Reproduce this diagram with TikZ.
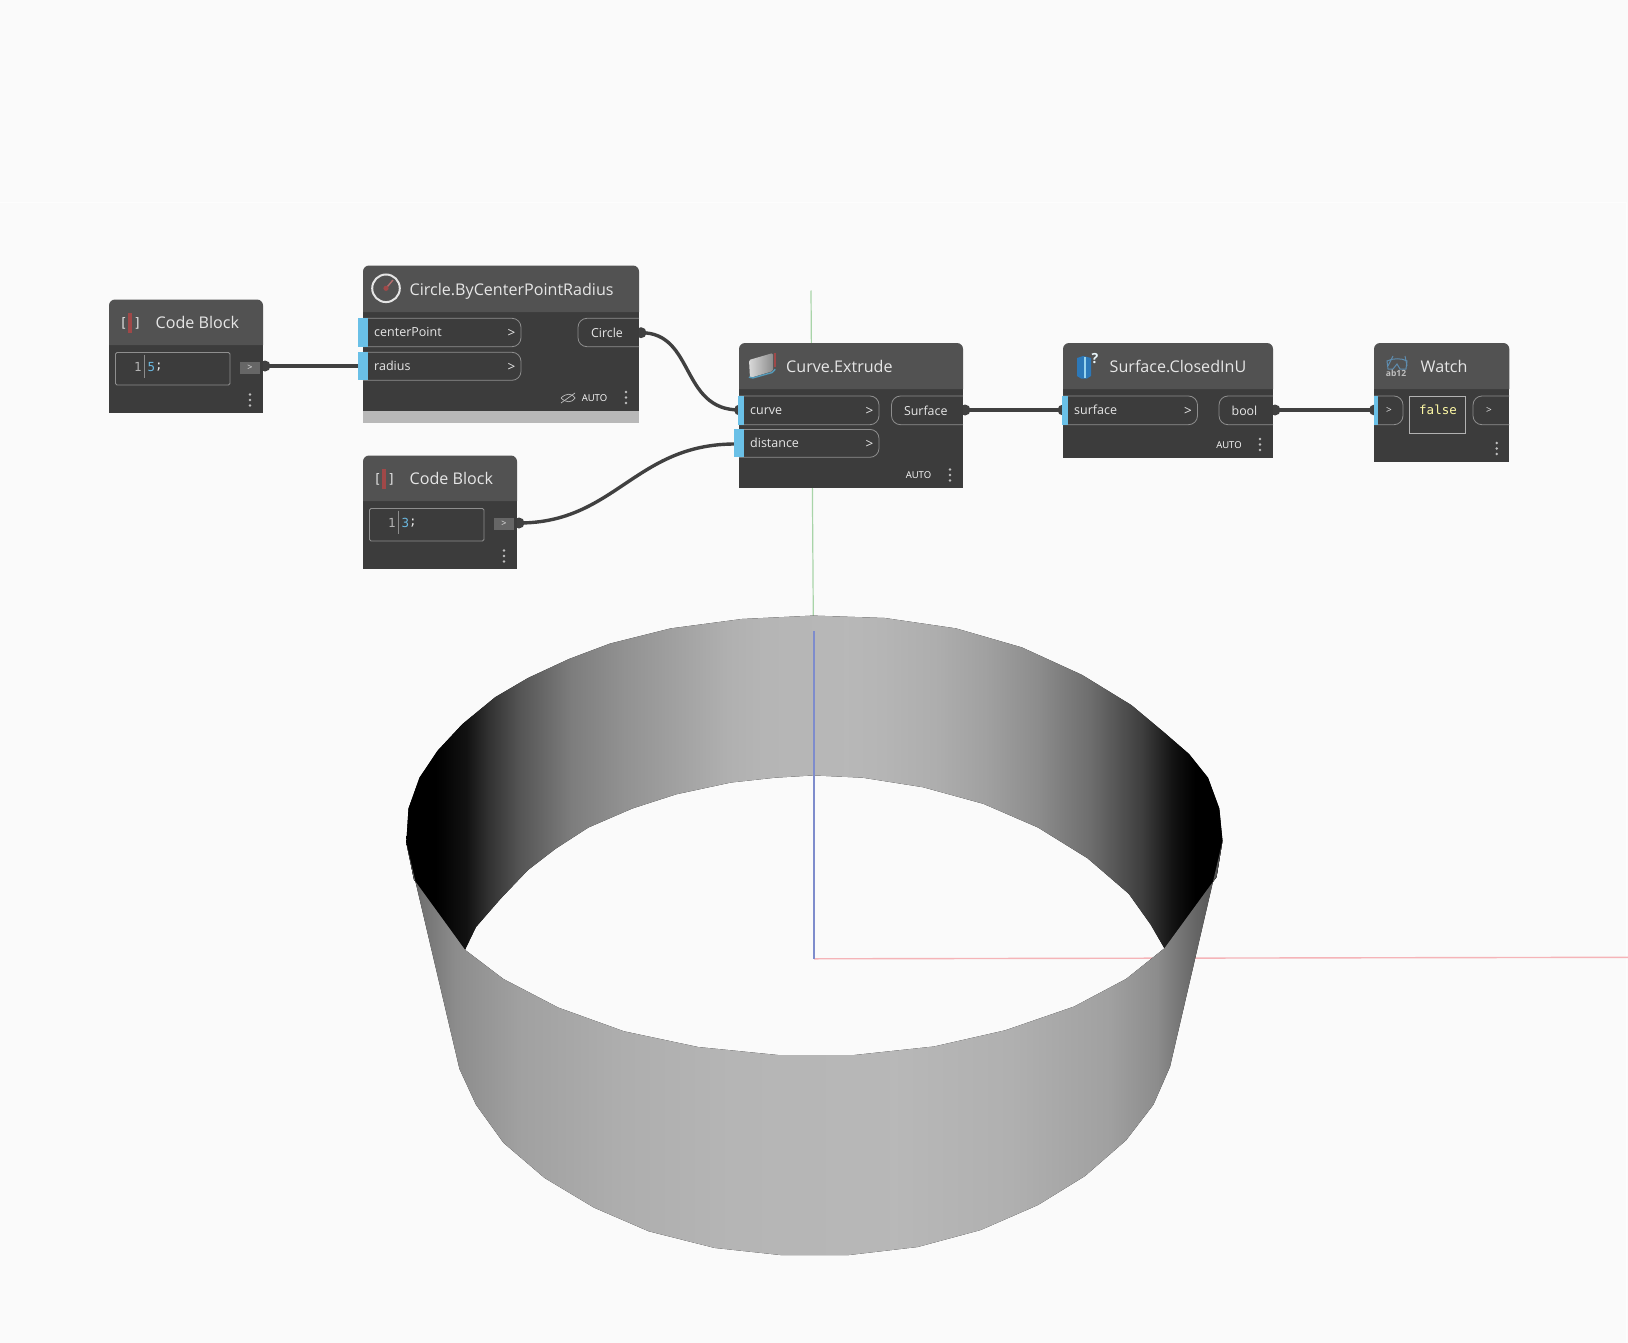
\documentclass[tikz,border=0pt]{standalone}
\usepackage{fontspec}
\setmainfont{Open Sans}
\newfontfamily\codefont{DejaVu Sans Mono}
\pgfdeclarehorizontalshading{farwall}{100bp}{
 color(0bp)=(black); color(25bp)=(black); color(26.8bp)=(black);
 color(28.7bp)=(black!93); color(30bp)=(black!81); color(31.9bp)=(black!67);
 color(35.1bp)=(black!51); color(38.3bp)=(black!43); color(41.5bp)=(black!37);
 color(44.7bp)=(black!31); color(46.9bp)=(black!29); color(52bp)=(black!28);
 color(54.2bp)=(black!29); color(57.5bp)=(black!32); color(60.5bp)=(black!37);
 color(63.7bp)=(black!45); color(66.9bp)=(black!57); color(70.1bp)=(black!76);
 color(72bp)=(black!93); color(73.3bp)=(black); color(75bp)=(black); color(100bp)=(black)}
\pgfdeclarehorizontalshading{nearwall}{100bp}{
 color(0bp)=(black!66); color(25bp)=(black!66); color(26bp)=(black!55);
 color(28bp)=(black!45); color(32bp)=(black!37); color(38bp)=(black!32);
 color(45bp)=(black!29); color(55bp)=(black!28); color(62bp)=(black!31);
 color(68bp)=(black!37); color(71bp)=(black!45); color(73bp)=(black!58); color(75bp)=(black!70); color(100bp)=(black!70)}
\definecolor{bg}{HTML}{FAFAFA}
\definecolor{bodyc}{HTML}{3C3C3C}
\definecolor{headc}{HTML}{525252}
\definecolor{wirec}{HTML}{404040}
\definecolor{portblue}{HTML}{6AC0E7}
\definecolor{pillc}{HTML}{8E8E8E}
\definecolor{txtc}{HTML}{E6E6E6}
\definecolor{numblue}{HTML}{6AB8E0}
\definecolor{iconred}{HTML}{A04848}
\definecolor{axisx}{HTML}{F5B4B8}
\definecolor{axisy}{HTML}{A8D4A8}
\definecolor{axisz}{HTML}{7E8CCC}
\definecolor{surfblue}{HTML}{2C78B8}
\definecolor{watchblue}{HTML}{5E8CAE}
\tikzset{
 x=1pt,y=-1pt,
 title/.style={anchor=base west,inner sep=0,text=txtc,font=\fontsize{16.1}{18}\selectfont},
 portlabel/.style={anchor=base west,inner sep=0,text=txtc,font=\fontsize{12.5}{15}\selectfont},
 outlabel/.style={inner sep=0,text=txtc,font=\fontsize{12.4}{15}\selectfont},
 chev/.style={inner sep=0,text=txtc,font=\fontsize{13.5}{14}\selectfont},
 autolabel/.style={inner sep=0,text=white,font=\fontsize{9.5}{11}\selectfont},
 knob/.style={circle,fill=wirec,inner sep=0,minimum size=11pt},
 wire/.style={wirec,line width=3.4pt},
 pillline/.style={draw=pillc,line width=.8pt,rounded corners=9pt},
 codebox/.style={draw=pillc,line width=.8pt,rounded corners=1.5pt},
 dotc/.style={fill=white!75!black},
 code/.style={inner sep=0,font=\codefont\fontsize{12.5}{14}\selectfont},
}
\newcommand{\dynbody}[6]{%
 \fill[bodyc] (#2,#5) rectangle (#3,#6);
 \fill[headc,rounded corners=6pt] (#2,#5) -- (#2,#4) -- (#3,#4) -- (#3,#5);
 \coordinate (#1) at (#2,#4);}
\newcommand{\inport}[6]{%
 \draw[pillline] (#2,#4) -- (#3,#4) -- (#3,#5) -- (#2,#5);
 \fill[portblue] (#2-1,#4) rectangle (#2+5,#5);
 \node[portlabel] (#1) at (#2+11,#4+18.2) {#6};
 \node[chev] at (#3-9.5,#4+15) {>};}
\newcommand{\outport}[6]{%
 \draw[pillline] (#3,#4) -- (#2,#4) -- (#2,#5) -- (#3,#5);
 \node[outlabel] (#1) at ({(#2+#3)/2-1.5},#4+15) {#6};}
\newcommand{\threedots}[2]{%
 \fill[dotc] (#1,#2-5.5) circle (1.4pt) (#1,#2) circle (1.4pt) (#1,#2+5.5) circle (1.4pt);}
\newcommand{\cbicon}[2]{%
 \fill[iconred] (#1-2,#2-10) rectangle (#1+2,#2+10);
 \node[inner sep=0,text=txtc,font=\codefont\fontsize{13}{15}\selectfont] at (#1-6.5,#2) {[};
 \node[inner sep=0,text=txtc,font=\codefont\fontsize{13}{15}\selectfont] at (#1+7.5,#2) {]};}
\newcommand{\cbnode}[4]{% name x ytop num
 \dynbody{#1}{#2}{#2+154}{#3}{#3+45.5}{#3+113.5}
 \cbicon{#2+21}{#3+23.5}
 \node[title] (#1t) at (#2+46.5,#3+29) {Code Block};
 \draw[codebox] (#2+6.5,#3+53) rectangle (#2+121,#3+85.5);
 \node[code,text=white!70!black] at (#2+29,#3+67.5) {1};
 \draw[white!55!black,line width=.5pt] (#2+35.5,#3+55) -- (#2+35.5,#3+78);
 \node[code,text=numblue,anchor=west] (#1n) at (#2+38.5,#3+67.5) {#4};
 \node[code,text=txtc,anchor=west] at (#2+46,#3+67.5) {;};
 \fill[white!40!black] (#2+130.5,#3+62) rectangle (#2+150.5,#3+74.5);
 \node[inner sep=0,text=txtc,font=\fontsize{9}{10}\selectfont] at (#2+141,#3+68) {>};
 \threedots{#2+141}{#3+100.5}}
\begin{document}
\begin{tikzpicture}
\useasboundingbox (0,0) rectangle (1628,1343);
\fill[bg] (0,0) rectangle (1628,1343);
\draw[white!70!bg,line width=1pt] (0,203) -- (1626,203) -- (1626,1343);
% axes
\coordinate (origin) at (814,958.8);
\coordinate (xend) at (1628,957.3);
\coordinate (yend) at (811,290.5);
\coordinate (ytip) at (813.3,618);
\coordinate (zend) at (814,631);
\draw[axisy,line width=1.2pt] (yend) -- (ytip);
\draw[axisx,line width=1.4pt] (origin) -- (xend);
% far wall
\fill[shading=farwall]
 (406.3,842.7) -- (408.5,808.5) -- (419.5,777.7) -- (437.6,750.7) -- (462.3,724.2) -- (495.2,697.2) -- (528,678) -- (569,659) -- (610,643.6) -- (670.7,628.4) -- (742,619) -- (813.3,615.6) -- (884.7,618) -- (956,628.4) -- (1021.8,647.4) -- (1082,674.9) -- (1131.5,705.2) -- (1164.4,732.7) -- (1189,754) -- (1208,777.7) -- (1219.3,808.5) -- (1222.5,840.8)
 -- (1216.5,877) -- (1164.4,948.3)
 -- (1150.7,924.6) -- (1128.8,893.8) -- (1087.6,858.3) -- (1038,827.5) -- (983.4,803.8) -- (923,787.2) -- (862.7,777.7) -- (813.3,775.4) -- (775,777.7) -- (731,782.5) -- (676.2,794.3) -- (632.3,808.5) -- (588.4,827.5) -- (555.5,848.8) -- (528,870) -- (500.7,898.6) -- (476,927) -- (465,949.8) -- (414,879.6) -- cycle;
% near wall
\fill[shading=nearwall]
 (406.3,842.7) -- (414,879.6) -- (465,949.8) -- (503.4,979) -- (558.3,1007.6) -- (624,1031.3) -- (698,1047) -- (777.7,1055) -- (854.5,1055) -- (934,1046.5) -- (1005.3,1030.3) -- (1074,1006.6) -- (1126,979) -- (1164.4,948.3) -- (1216.5,877) -- (1222.5,840.8)
 -- (1170,1066.8) -- (1153.4,1104.7) -- (1126,1140.3) -- (1085,1176) -- (1038,1205) -- (980.7,1230) -- (917.6,1247) -- (849,1255) -- (780.4,1255) -- (714.6,1247.9) -- (648.8,1231.3) -- (594,1207.6) -- (544.6,1178) -- (503.4,1142.7) -- (476,1104.7) -- (459.5,1069) -- cycle;
\draw[axisz,line width=1.2pt] (zend) -- (origin);
% knobs
\node[knob] (k1) at (265,366) {};
\node[knob] (kcirc) at (641,332.7) {};
\node[knob] (kcb2) at (519,523) {};
\node[knob] (kcurveIn) at (739.5,410) {};
\coordinate (kdistIn) at (735,444);
\coordinate (kradIn) at (359,366);
\node[knob] (ksurfOut) at (965,410) {};
\node[knob] (ksurfIn) at (1063,410) {};
\node[knob] (kboolOut) at (1275,410) {};
\node[knob] (kwatchIn) at (1374.5,410) {};
% wires
\draw[wire] (k1.center) -- (kradIn);
\draw[wire] (kcirc.center) .. controls (695,332.7) and (680,410) .. (kcurveIn.center);
\draw[wire] (kcb2.center) .. controls (615,523) and (635,444) .. (kdistIn);
\draw[wire] (ksurfOut.center) -- (ksurfIn.center);
\draw[wire] (kboolOut.center) -- (kwatchIn.center);
% code blocks
\cbnode{cba}{109}{299.5}{5}
\cbnode{cbb}{363}{455.5}{3}
% circle node
\fill[white!72!black] (363,411) rectangle (639,422.7);
\dynbody{circ}{363}{639}{265.5}{312}{411}
\draw[white!90!black,line width=2pt] (386,288.3) circle (13.8pt);
\draw[iconred!80!white,line width=1.4pt] (386,288.3) -- (393,280);
\fill[iconred] (386,288.3) circle (2.6pt);
\node[title] (circt) at (409.5,295.5) {Circle.ByCenterPointRadius};
\inport{circcp}{363}{521}{318.3}{346.7}{centerPoint}
\fill[portblue] (358,318.3) rectangle (363,346.7);
\inport{circr}{363}{521}{352.3}{380.3}{radius}
\fill[portblue] (358,352.3) rectangle (363,380.3);
\outport{circo}{578}{639}{318.3}{346.7}{Circle}
\begin{scope}[white!75!black,line width=.7pt]
\draw (561,398) .. controls (566,393) and (572,393) .. (575,398) .. controls (572,403) and (566,403) .. (561,398);
\draw (561,403) -- (575,393);
\end{scope}
\node[autolabel] (circa) at (594.5,398) {AUTO};
\threedots{626}{397.5}
% curve extrude
\dynbody{ext}{739}{963}{343}{389}{488}
\shade[left color=white!85!black,right color=white!55!black,rounded corners=1.5pt] (749,360) -- (773,353) -- (773,371) -- (750,378) -- cycle;
\draw[portblue!80!black,line width=1.4pt,rounded corners=2pt] (749,377) -- (751,378.5) -- (774,372) -- (775,369);
\draw[iconred,line width=1.2pt] (775,353) -- (775,367);
\node[title] (extt) at (786,372) {Curve.Extrude};
\inport{extc}{739}{879}{396}{424.7}{curve}
\inport{extd}{739}{879}{429.4}{457.3}{distance}
\fill[portblue] (734,429.4) rectangle (739,457.3);
\outport{exto}{891.5}{963}{396}{424.7}{Surface}
\node[autolabel] (exta) at (918.5,475) {AUTO};
\threedots{950}{475}
% surface closed
\dynbody{sur}{1063}{1273}{343}{389}{457.7}
\fill[surfblue] (1077,358) -- (1083,356) -- (1091,358) -- (1091,376) -- (1087,378.5) -- (1081,378.5) -- (1077,376) -- cycle;
\fill[portblue!70!white] (1083.5,357) rectangle (1086,378);
\node[inner sep=0,text=white!85!portblue,font=\bfseries\fontsize{14}{15}\selectfont] at (1095,359) {?};
\node[title] (surt) at (1109.5,372) {Surface.ClosedInU};
\inport{suri}{1063}{1197.5}{396}{424.7}{surface}
\outport{suro}{1219}{1273}{396}{424.7}{bool}
\node[autolabel] (sura) at (1229,445) {AUTO};
\threedots{1260}{444.5}
% watch
\dynbody{wat}{1374}{1509.3}{343}{389}{462}
\draw[watchblue,line width=1pt] (1388,366) -- (1393,356) (1405,356) -- (1407,366);
\draw[watchblue,line width=1pt] (1387,361) .. controls (1393,358) and (1402,358) .. (1407,361) -- (1406,369) -- (1400,369) -- (1397,364) -- (1393,369) -- (1388,369) -- cycle;
\node[inner sep=0,text=white!75!black,font=\bfseries\fontsize{8.5}{9}\selectfont] at (1396,373.5) {ab12};
\node[title] (watt) at (1420.5,372) {Watch};
\draw[pillline] (1374,396) -- (1403,396) -- (1403,424.7) -- (1374,424.7);
\fill[portblue] (1374,396) rectangle (1378.3,424.7);
\node[inner sep=0,text=txtc,font=\fontsize{10}{11}\selectfont] (wati) at (1389,410) {>};
\draw[white!70!black,line width=.9pt] (1409,396) rectangle (1465.7,433.7);
\node[code,text=yellow!35!white] (watv) at (1438,410) {false};
\draw[pillline] (1509.3,396) -- (1473,396) -- (1473,424.7) -- (1509.3,424.7);
\node[inner sep=0,text=txtc,font=\fontsize{10}{11}\selectfont] (wato) at (1489,410) {>};
\threedots{1496.7}{448.5}
\end{tikzpicture}
\end{document}
